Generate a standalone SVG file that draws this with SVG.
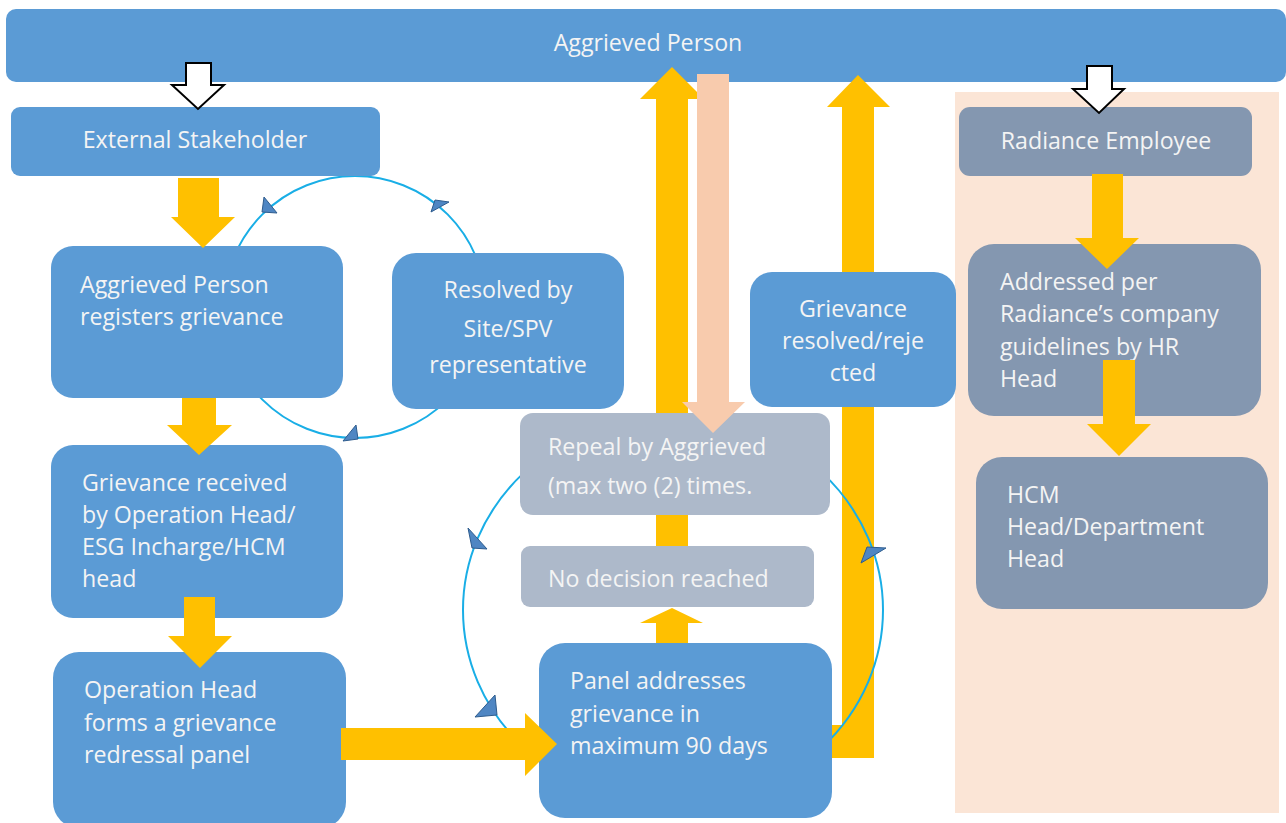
<svg xmlns="http://www.w3.org/2000/svg" width="1286" height="823" viewBox="0 0 1286 823">
<style>
.blue{fill:#5B9BD5}
.gray{fill:#ADB9CA}
.slate{fill:#8497B0}
.t{font-family:"Open Sans","Liberation Sans",Arial,sans-serif;font-size:23.2px;fill:#F4F4F4}
.c{text-anchor:middle}
.y{fill:#FFC000}
.hollow{fill:#FFFFFF;stroke:#000000;stroke-width:2;stroke-linejoin:miter}
.ring{fill:none;stroke:#19AEE6;stroke-width:2}
.ah{fill:#4F86C3;stroke:#2E5C8E;stroke-width:1}
</style>
<rect width="1286" height="823" fill="#FFFFFF"/>
<rect id="employee-zone" x="955" y="92" width="324" height="721" fill="#FBE5D6"/>

<g id="aggrieved-person">
<rect class="blue" x="6" y="9" width="1280" height="73" rx="10"/>
<text class="t c" x="648" y="51">Aggrieved Person</text>
</g>

<g id="connectors-back">
<polygon class="y" points="672,67 704,99 688,99 688,546 656,546 656,99 640,99"/>
<polygon class="y" points="858,75 890,107 874,107 874,758 820,758 820,725 842,725 842,107 827,107"/>
<circle class="ring" cx="355" cy="307" r="131"/>
<ellipse class="ring" cx="673" cy="610" rx="210" ry="195"/>
<polygon class="ah" points="264,197 262,212 277,213"/>
<polygon class="ah" points="431,212 435,200 449,202"/>
<polygon class="ah" points="343,441 356,425 358,439"/>
<polygon class="ah" points="468,528 472,548 487,549"/>
<polygon class="ah" points="475,717 495,695 497,715"/>
<polygon class="ah" points="861,563 867,547 886,548"/>
</g>

<g id="external-stakeholder">
<rect class="blue" x="11" y="107" width="369" height="69" rx="9"/>
<text class="t c" x="195" y="148">External Stakeholder</text>
</g>
<g id="registers-grievance">
<rect class="blue" x="51" y="246" width="292" height="152" rx="22"/>
<text class="t" x="80" y="293">Aggrieved Person</text>
<text class="t" x="80" y="325">registers grievance</text>
</g>
<g id="resolved-site">
<rect class="blue" x="392" y="253" width="232" height="156" rx="24"/>
<text class="t c" x="508" y="298">Resolved by</text>
<text class="t c" x="508" y="337">Site/SPV</text>
<text class="t c" x="508" y="373">representative</text>
</g>
<g id="grievance-received">
<rect class="blue" x="51" y="445" width="292" height="173" rx="22"/>
<text class="t" x="82" y="491">Grievance received</text>
<text class="t" x="82" y="523">by Operation Head/</text>
<text class="t" x="82" y="555">ESG Incharge/HCM</text>
<text class="t" x="82" y="587">head</text>
</g>
<g id="operation-head-panel">
<rect class="blue" x="53" y="652" width="293" height="176" rx="26"/>
<text class="t" x="84" y="698">Operation Head</text>
<text class="t" x="84" y="731">forms a grievance</text>
<text class="t" x="84" y="763">redressal panel</text>
</g>
<g id="panel-addresses">
<rect class="blue" x="539" y="643" width="293" height="175" rx="26"/>
<text class="t" x="570" y="689">Panel addresses</text>
<text class="t" x="570" y="722">grievance in</text>
<text class="t" x="570" y="754">maximum 90 days</text>
</g>
<g id="no-decision">
<rect class="gray" x="521" y="546" width="293" height="61" rx="9"/>
<text class="t" x="548" y="587">No decision reached</text>
</g>
<g id="repeal">
<rect class="gray" x="520" y="413" width="310" height="102" rx="13"/>
<text class="t" x="548" y="455">Repeal by Aggrieved</text>
<text class="t" x="548" y="494">(max two (2) times.</text>
</g>
<g id="grievance-resolved">
<rect class="blue" x="750" y="272" width="206" height="135" rx="22"/>
<text class="t c" x="853" y="317">Grievance</text>
<text class="t c" x="853" y="349">resolved/reje</text>
<text class="t c" x="853" y="381">cted</text>
</g>
<g id="radiance-employee">
<rect class="slate" x="959" y="107" width="293" height="69" rx="11"/>
<text class="t c" x="1106" y="149">Radiance Employee</text>
</g>
<g id="addressed-hr">
<rect class="slate" x="968" y="244" width="293" height="172" rx="26"/>
<text class="t" x="1000" y="290">Addressed per</text>
<text class="t" x="1000" y="322">Radiance’s company</text>
<text class="t" x="1000" y="355">guidelines by HR</text>
<text class="t" x="1000" y="387">Head</text>
</g>
<g id="hcm-head">
<rect class="slate" x="976" y="457" width="292" height="152" rx="26"/>
<text class="t" x="1007" y="503">HCM</text>
<text class="t" x="1007" y="535">Head/Department</text>
<text class="t" x="1007" y="567">Head</text>
</g>

<g id="connectors">
<polygon fill="#F8CBAD" points="697,74 729,74 729,402 745,402 713,433 682,402 697,402"/>
<polygon class="y" points="178,178 219,178 219,217 235,217 203,248 171,217 178,217"/>
<polygon class="y" points="182,398 216,398 216,425 232,425 199,455 167,425 182,425"/>
<polygon class="y" points="184,597 215,597 215,636 232,636 200,668 168,636 184,636"/>
<polygon class="y" points="341,728 525,728 525,713 557,744 525,776 525,760 341,760"/>
<polygon class="y" points="672,608 703,623 688,623 688,643 656,643 656,623 640,623"/>
<polygon class="y" points="1092,174 1123,174 1123,238 1139,238 1107,269 1075,238 1092,238"/>
<polygon class="y" points="1103,360 1135,360 1135,424 1151,424 1119,456 1087,424 1103,424"/>
<polygon class="hollow" points="186,63 211,63 211,85 224,85 198,109 172,85 186,85"/>
<polygon class="hollow" points="1087,66 1112,66 1112,89 1124,89 1099,113 1073,89 1087,89"/>
</g>
</svg>
